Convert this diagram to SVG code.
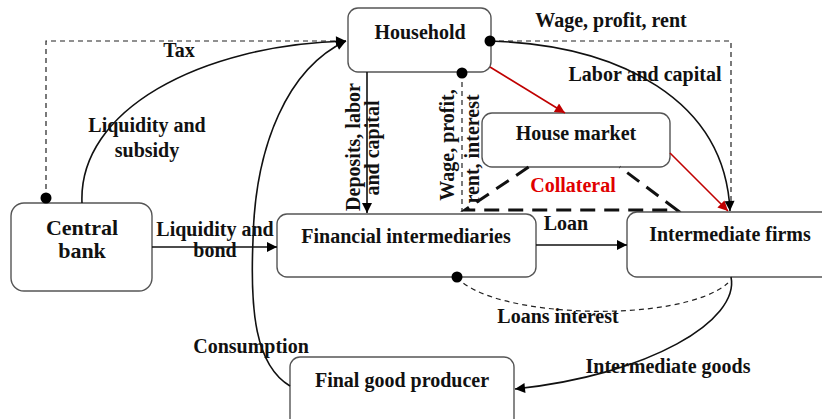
<svg xmlns="http://www.w3.org/2000/svg" width="822" height="419" viewBox="0 0 822 419">
<style>
  text { font-family: "Liberation Serif", "Times New Roman", serif; font-weight: bold; font-size: 20px; fill: #111; }
  .node rect { fill: #fff; stroke: #555; stroke-width: 1.4; }
  .c { fill: none; stroke: #111; stroke-width: 1.6; }
  .d { fill: none; stroke: #222; stroke-width: 1.2; stroke-dasharray: 5 4; }
  .red { fill: none; stroke: #c00000; stroke-width: 1.6; }
  .tri { fill: none; stroke: #111; stroke-width: 3; stroke-dasharray: 15 9; }
  .dot { fill: #000; }
  .mid { text-anchor: middle; }
</style>
<defs>
  <marker id="ab" viewBox="0 0 10 10" refX="10" refY="5" markerWidth="12" markerHeight="10" markerUnits="userSpaceOnUse" orient="auto">
    <path d="M0,0 L10,5 L0,10 Z" fill="#000"/>
  </marker>
  <marker id="ar" viewBox="0 0 10 10" refX="10" refY="5" markerWidth="12" markerHeight="10" markerUnits="userSpaceOnUse" orient="auto">
    <path d="M0,0 L10,5 L0,10 Z" fill="#c00000"/>
  </marker>
</defs>
<rect width="822" height="419" fill="#fff"/>

<g id="household" class="node">
  <rect x="348" y="8" width="143" height="64" rx="10"/>
  <text class="mid" x="420" y="39">Household</text>
</g>
<g id="central-bank" class="node">
  <rect x="11" y="203" width="141" height="88" rx="13"/>
  <text class="mid" x="82" y="235" style="font-size:22px">Central</text>
  <text class="mid" x="82" y="258" style="font-size:22px">bank</text>
</g>
<g id="financial-intermediaries" class="node">
  <rect x="277" y="214" width="259" height="63" rx="10"/>
  <text class="mid" x="406" y="243">Financial intermediaries</text>
</g>
<g id="house-market" class="node">
  <rect x="482" y="113" width="188" height="54" rx="10"/>
  <text class="mid" x="576" y="140">House market</text>
</g>
<g id="intermediate-firms" class="node">
  <rect x="627" y="212" width="210" height="65" rx="10"/>
  <text class="mid" x="730" y="241">Intermediate firms</text>
</g>
<g id="final-good-producer" class="node">
  <rect x="290" y="357" width="224" height="80" rx="10"/>
  <text class="mid" x="402" y="387">Final good producer</text>
</g>

<g id="connectors">
  <!-- Collateral triangle (apex hidden behind House market) -->
  <path class="tri" d="M528.6,167 L465,210 L677,210 L619.7,167"/>
  <!-- Tax -->
  <path class="d" d="M46,198 L46,41 L340,41"/>
  <!-- Liquidity and subsidy -->
  <path class="c" d="M82,203 C78,110 200,45 346,41" marker-end="url(#ab)"/>
  <!-- Consumption -->
  <path class="c" d="M290,386 C255,365 250,310 253,240 C255,145 288,68 346,41" marker-end="url(#ab)"/>
  <!-- Liquidity and bond -->
  <path class="c" d="M152,247 L277,247" marker-end="url(#ab)"/>
  <!-- Deposits -->
  <path class="c" d="M367,72 L367,213" marker-end="url(#ab)"/>
  <!-- Wage profit rent interest (dashed vertical) -->
  <path class="d" d="M462,73 L462,212"/>
  <!-- Household to House market (red) -->
  <path class="red" d="M490,67 L565,113" marker-end="url(#ar)"/>
  <!-- House market to Intermediate firms (red) -->
  <path class="red" d="M670,153 L728,211" marker-end="url(#ar)"/>
  <!-- Wage, profit, rent dashed -->
  <path class="d" d="M490,41 L731,41 L731,205"/>
  <!-- Labor and capital -->
  <path class="c" d="M490,41 C620,45 725,100 730,211" marker-end="url(#ab)"/>
  <!-- Loan -->
  <path class="c" d="M536,245 L627,245" marker-end="url(#ab)"/>
  <!-- Loans interest -->
  <path class="d" d="M457,277 C490,318 680,325 728,283"/>
  <!-- Intermediate goods -->
  <path class="c" d="M731,277 C740,320 650,375 515,389" marker-end="url(#ab)"/>
  <circle class="dot" cx="46" cy="198" r="5.5"/>
  <circle class="dot" cx="490" cy="41" r="5.5"/>
  <circle class="dot" cx="462" cy="73" r="5.5"/>
  <circle class="dot" cx="457" cy="277" r="5.5"/>
</g>

<g id="labels">
  <text class="mid" x="179" y="57">Tax</text>
  <text class="mid" x="147" y="132">Liquidity and</text>
  <text class="mid" x="147" y="157">subsidy</text>
  <text class="mid" x="215" y="236">Liquidity and</text>
  <text class="mid" x="215" y="257">bond</text>
  <text class="mid" x="251" y="353">Consumption</text>
  <text class="mid" x="611" y="27">Wage, profit, rent</text>
  <text class="mid" x="645" y="81">Labor and capital</text>
  <text class="mid" x="573" y="192" style="fill:#e00000">Collateral</text>
  <text class="mid" x="566" y="230">Loan</text>
  <text class="mid" x="558" y="323">Loans interest</text>
  <text class="mid" x="668" y="373">Intermediate goods</text>
  <text class="mid" transform="translate(360,147) rotate(-90)">Deposits, labor</text>
  <text class="mid" transform="translate(379,148) rotate(-90)">and capital</text>
  <text class="mid" transform="translate(454,145) rotate(-90)">Wage, profit,</text>
  <text class="mid" transform="translate(479,149) rotate(-90)">rent, interest</text>
</g>
</svg>
